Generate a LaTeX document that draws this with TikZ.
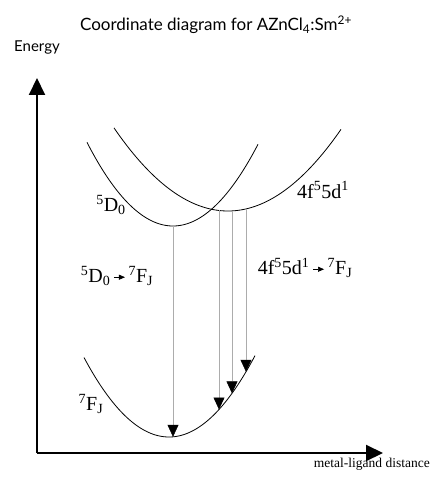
\documentclass[tikz,border=0pt]{standalone}
\usepackage{fontspec}
\setmainfont{Liberation Serif}
\newfontfamily\titlefont{Lato}
\usetikzlibrary{arrows.meta}
\newcommand{\transarrow}{\tikz[baseline=-0.6ex]\draw[line width=0.6pt,-{Triangle[length=6pt,width=5pt]}] (0pt,0pt) -- (11pt,0pt);}
\tikzset{>={Triangle[length=17pt,width=16pt]},
  axis/.style={line width=2pt, ->},
  curve/.style={black, line width=0.8pt},
  emission/.style={gray!65, line width=0.5pt, -{Triangle[length=12pt,width=11pt,black]}},
  levellabel/.style={font=\fontsize{20}{23}\selectfont, inner sep=0pt}}

\begin{document}
\begin{tikzpicture}[x=1pt, y=-1pt]
    \useasboundingbox (0,0) rectangle (431,478);
    % title and axis labels
    \node[font=\titlefont\fontsize{17}{20}\selectfont] (title) at (216,25) {Coordinate diagram for AZnCl\textsubscript{4}:Sm\textsuperscript{2+}};
    \node[font=\titlefont\fontsize{15}{17}\selectfont, inner sep=0pt] (energy) at (37,47) {Energy};
    \node[font=\fontsize{13.5}{15}\selectfont, anchor=east, inner sep=0pt] (distance) at (430,464) {metal-ligand distance};
    % axes
    \coordinate (origin) at (37,453);
    \coordinate (ytip) at (37,78);
    \coordinate (xtip) at (383,453);
    \draw[axis] (origin) -- (ytip);
    \draw[axis] (origin) -- (xtip);
    % potential curves
    \draw[curve] plot[domain=87:258, samples=80] (\x, {226-0.0113*(\x-173)*(\x-173)});
    \draw[curve] plot[domain=114:341, samples=80] (\x, {211-0.0064*(\x-228)*(\x-228)});
    \draw[curve] plot[domain=84:255, samples=80] (\x, {437-0.011*(\x-169)*(\x-169)});
    % points on the curves
    \coordinate (dmin) at (173,226);
    \coordinate (fmin) at (173,{437-0.011*16});
    \foreach \name/\xx in {a/219, b/232, c/246} {
      \coordinate (top\name) at (\xx,{211-0.0064*(\xx-228)*(\xx-228)});
      \coordinate (bot\name) at (\xx,{437-0.011*(\xx-169)*(\xx-169)});
    }
    % emissions
    \draw[emission] (dmin) -- (fmin);
    \foreach \name in {a, b, c}
      \draw[emission] (top\name) -- (bot\name);
    % level labels
    \node[levellabel] (dlabel) at (111,205) {\textsuperscript{5}D\textsubscript{0}};
    \node[levellabel] (fdlabel) at (323,190) {4f\textsuperscript{5}5d\textsuperscript{1}};
    \node[levellabel] (fjlabel) at (91,404) {\textsuperscript{7}F\textsubscript{J}};
    \node[levellabel] (fdtrans) at (305,268) {4f\textsuperscript{5}5d\textsuperscript{1}\,\transarrow\,\textsuperscript{7}F\textsubscript{J}};
    \node[levellabel] (dtrans) at (117,276) {\textsuperscript{5}D\textsubscript{0}\,\transarrow\,\textsuperscript{7}F\textsubscript{J}};
\end{tikzpicture}
\end{document}
